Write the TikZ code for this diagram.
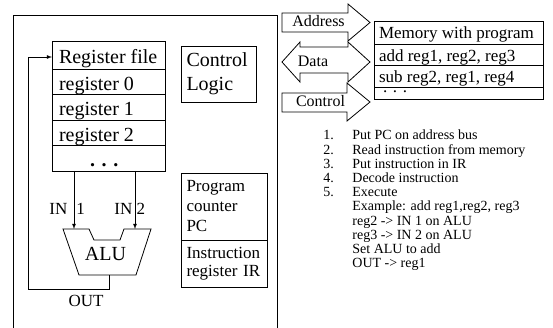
\documentclass[tikz,border=0pt]{standalone}
\usepackage{fontspec}
\setmainfont{Liberation Serif}
\usepackage{tikz}
\usetikzlibrary{arrows,positioning,calc}

\begin{document}
\begin{tikzpicture}[
            x=1pt,y=-1pt,
            line width=0.8pt,
            bigfont/.style={font=\fontsize{20}{24}\selectfont},
            midfont/.style={font=\fontsize{17}{20}\selectfont},
            busfont/.style={font=\fontsize{16}{18}\selectfont},
            regcell/.style={draw,outer sep=0pt,anchor=north west,inner xsep=7pt,inner ysep=0pt,
                bigfont,text height=21.5pt,text depth=4pt,minimum height=25.5pt,
                execute at begin node={\hbox to 99pt\bgroup},execute at end node={\hfil\egroup}},
            memcell/.style={draw,outer sep=0pt,anchor=north west,inner xsep=5pt,inner ysep=0pt,
                midfont,text height=17pt,text depth=4pt,minimum height=21.5pt,
                execute at begin node={\hbox to 159pt\bgroup},execute at end node={\hfil\egroup}},
            unit/.style={draw,outer sep=0pt,anchor=north west,inner xsep=5.5pt,inner ysep=0pt,align=left}
        ]
            \useasboundingbox (0,0) rectangle (553,328);

            % processor frame
            \draw (13,328) |- (277,15) -- (277,328);

            % register file
            \node[regcell,minimum height=28pt] (rfile) at (52,41) {Register file};
            \node[regcell,below=0pt of rfile] (reg0) {register 0};
            \node[regcell,below=0pt of reg0] (reg1) {register 1};
            \node[regcell,below=0pt of reg1] (reg2) {register 2};
            \node[regcell,below=0pt of reg2,minimum height=24pt] (rdots) {\hspace*{31pt}{\bfseries . . .}};

            % control unit and registers
            \node[unit,bigfont,text width=64pt,minimum height=56pt] (ctrl) at (181,46) {Control\\Logic};
            \node[unit,midfont,text width=75pt,minimum height=67pt] (pc) at (181,173) {Program\\counter\\PC};
            \node[unit,font=\fontsize{17}{18}\selectfont,text width=75pt,minimum height=47pt,below=0pt of pc] (ir) {Instruction\\register IR};

            % ALU
            \coordinate (in1) at (74,229);
            \coordinate (in2) at (135,229);
            \coordinate (aluout) at (109,275);
            \draw (63,229) -- (89,229) -- (94,240) -- (120,240) -- (124,229) -- (151,229) -- (136,275) -- (79,275) -- cycle;
            \node[bigfont] (alu) at (105.5,253.5) {ALU};

            \draw[-latex] (rdots.south -| in1) -- (in1);
            \draw[-latex] (rdots.south -| in2) -- (in2);
            \node[midfont,anchor=base west,inner sep=0pt] (in1lbl) at (49,215) {IN\hspace{9pt}1};
            \node[midfont,anchor=base west,inner sep=0pt] (in2lbl) at (114,215) {IN 2};

            % result back to the register file
            \draw[-latex] (aluout) |- (28,289) |- ([yshift=-2pt]rfile.west);
            \node[midfont,anchor=base,inner sep=0pt] (outlbl) at (86,306.5) {OUT};

            % buses
            \draw (282,13) -- (348,13) -- (348,4) -- (370,22.5) -- (348,41) -- (348,32) -- (282,32) -- cycle;
            \draw (282,62) -- (300,42) -- (300,47) -- (348,47) -- (348,42) -- (370,62) -- (348,82) -- (348,73) -- (300,73) -- (300,82) -- cycle;
            \draw (282,93) -- (347,93) -- (347,83) -- (370,102) -- (347,121) -- (347,112) -- (282,112) -- cycle;
            \node[busfont,anchor=base,inner sep=0pt] (addrlbl) at (318.5,26.5) {Address};
            \node[busfont,anchor=base,inner sep=0pt] (datalbl) at (313,67) {Data};
            \node[busfont,anchor=base,inner sep=0pt] (ctllbl) at (320.5,107) {Control};

            % memory
            \node[memcell,minimum height=23pt] (mem) at (374,21) {Memory with program};
            \node[memcell,below=0pt of mem] (instr1) {add reg1, reg2, reg3};
            \node[memcell,below=0pt of instr1] (instr2) {sub reg2, reg1, reg4};
            \node[memcell,below=0pt of instr2,minimum height=12pt,text height=5pt,text depth=5pt] (mdots) {\hspace*{4pt}. . .};

            % instruction cycle
            \node[anchor=north west,inner sep=0pt,font=\fontsize{14}{14.2}\selectfont] (steps) at (323,129.6) {%
                \begin{tabular}{@{}p{29pt}@{}l@{}}
                1. & Put PC on address bus\\
                2. & Read instruction from memory\\
                3. & Put instruction in IR\\
                4. & Decode instruction\\
                5. & Execute\\
                   & Example: add reg1,reg2, reg3\\
                   & reg2 -> IN 1 on ALU\\
                   & reg3 -> IN 2 on ALU\\
                   & Set ALU to add\\
                   & OUT -> reg1
                \end{tabular}};
        \end{tikzpicture}
\end{document}
